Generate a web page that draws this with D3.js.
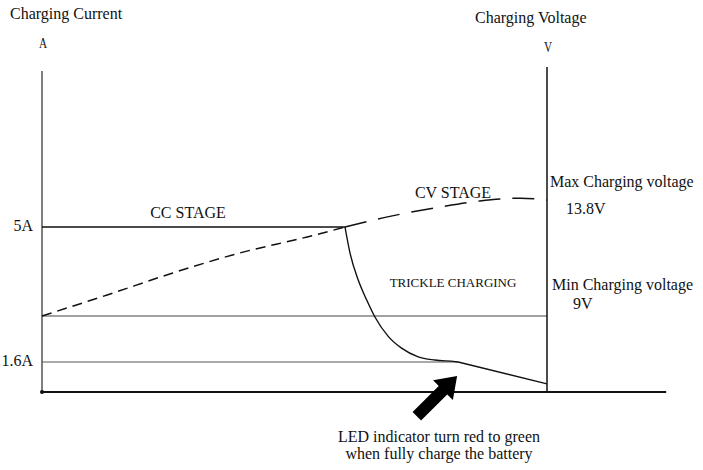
<!DOCTYPE html>
<html>
<head>
<meta charset="utf-8">
<script src="https://cdn.jsdelivr.net/npm/d3@7"></script>
<style>
    body { margin: 0; background: #fff; }
    text { font-family: "Liberation Serif", "Times New Roman", serif; fill: #111; }
</style>
</head>
<body>
<div id="chart"></div>
<script>
// charging profile, time in % of the charge cycle
const ccTime = [0, 60];
const ccCurrent = [5, 5];

const decayTime = [60, 61, 62.6, 64.3, 65.9, 68.6, 71.2, 74.5, 77.8, 81.8, 82.4];
const decayCurrent = [5, 4.34, 3.67, 3.16, 2.74, 2.24, 1.95, 1.73, 1.65, 1.61, 1.6];

const trickleTime = [82.4, 100];
const trickleCurrent = [1.6, 0.43];

const voltTime = [0, 12.9, 25.9, 39.2, 52.5, 60];
const voltValues = [9, 9.87, 10.78, 11.61, 12.27, 12.68];
const cvTime = [60, 67.5, 78.8, 86.7, 94.7, 100];
const cvValues = [12.68, 13.06, 13.51, 13.76, 13.83, 13.8];

const currentTicks = ["5A", "1.6A"];
const currentTickValues = [5, 1.6];
const minVoltage = 9;
const fullChargeTime = 82.4;

const width = 703, height = 470;

const svg = d3.select("#chart").append("svg")
    .attr("width", width)
    .attr("height", height);

// piecewise scales, the picture is not drawn to scale
const x = d3.scaleLinear().domain([0, 100]).range([42, 547]);
const yI = d3.scaleLinear().domain([0, 1.6, 5, 6.6]).range([392, 362, 227, 71]);
const yV = d3.scaleLinear().domain([0, 9, 13.8, 16]).range([392, 316, 200, 67]);

const zip = (a, b) => a.map((d, i) => [d, b[i]]);

// reference lines
svg.append("line")
    .attr("x1", x(0)).attr("x2", x(100))
    .attr("y1", yV(minVoltage)).attr("y2", yV(minVoltage))
    .attr("stroke", "#444").attr("stroke-width", 1);

svg.append("line")
    .attr("x1", x(0)).attr("x2", x(fullChargeTime))
    .attr("y1", yI(1.6)).attr("y2", yI(1.6))
    .attr("stroke", "#555").attr("stroke-width", 1);

// axes
svg.append("line")
    .attr("x1", x(0)).attr("x2", x(0))
    .attr("y1", yI(6.6)).attr("y2", yI(0))
    .attr("stroke", "#555").attr("stroke-width", 1.5);

svg.append("line")
    .attr("x1", x(100)).attr("x2", x(100))
    .attr("y1", yV(16)).attr("y2", yV(0))
    .attr("stroke", "#111").attr("stroke-width", 1.5);

svg.append("line")
    .attr("x1", x(0)).attr("x2", x(123.6))
    .attr("y1", yI(0)).attr("y2", yI(0))
    .attr("stroke", "#111").attr("stroke-width", 1.8);

svg.append("circle")
    .attr("cx", x(0)).attr("cy", yI(0)).attr("r", 2)
    .attr("fill", "#111");

// current curve
const lineI = d3.line().x(d => x(d[0])).y(d => yI(d[1]));
const lineV = d3.line().x(d => x(d[0])).y(d => yV(d[1])).curve(d3.curveMonotoneX);

svg.append("path")
    .attr("d", lineI(zip(ccTime, ccCurrent)))
    .attr("fill", "none").attr("stroke", "#111").attr("stroke-width", 1.6);

svg.append("path")
    .attr("d", lineI.curve(d3.curveMonotoneX)(zip(decayTime, decayCurrent)))
    .attr("fill", "none").attr("stroke", "#111").attr("stroke-width", 1.4);

svg.append("path")
    .attr("d", lineI.curve(d3.curveLinear)(zip(trickleTime, trickleCurrent)))
    .attr("fill", "none").attr("stroke", "#111").attr("stroke-width", 1.4);

// voltage curve
svg.append("path")
    .attr("d", lineV(zip(voltTime, voltValues)))
    .attr("fill", "none").attr("stroke", "#111").attr("stroke-width", 1.5)
    .attr("stroke-dasharray", "10,6");

svg.append("path")
    .attr("d", lineV(zip(cvTime, cvValues)))
    .attr("fill", "none").attr("stroke", "#111").attr("stroke-width", 1.5)
    .attr("stroke-dasharray", "22,12");

// arrow pointing at the full charge point
const tipX = x(fullChargeTime) - 1, tipY = yI(1.6) + 14;
svg.append("path")
    .attr("d", "M0,0 L-20,-14 L-20,-6 L-57,-6 L-57,6 L-20,6 L-20,14 Z")
    .attr("transform", `translate(${tipX},${tipY}) rotate(-45)`)
    .attr("fill", "#000");

// labels
function label(txt, px, py, size, anchor) {
    return svg.append("text")
        .attr("x", px).attr("y", py)
        .attr("font-size", size)
        .attr("text-anchor", anchor || "start")
        .text(txt);
}

label("Charging Current", 10, 19, 16);
label("Charging Voltage", 475, 23, 16);
label("A", 0, 0, 15, "middle").attr("transform", "translate(43,48) scale(0.75,1)");
label("V", 0, 0, 15, "middle").attr("transform", "translate(548,52) scale(0.75,1)");

currentTicks.forEach((t, i) => {
    label(t, 33, yI(currentTickValues[i]) + 4, 16, "end");
});

label("CC STAGE", 188, 218, 16, "middle");
label("CV STAGE", 453, 198, 16, "middle");
label("TRICKLE CHARGING", 453, 287, 13, "middle");
label("Max Charging voltage", 550, 187, 16);
label("13.8V", 566, 214, 16);
label("Min Charging voltage", 552, 290, 16);
label("9V", 573, 309, 16);
label("LED indicator turn red to green", 439, 442, 16, "middle");
label("when fully charge the battery", 439, 459, 16, "middle");
</script>
</body>
</html>
